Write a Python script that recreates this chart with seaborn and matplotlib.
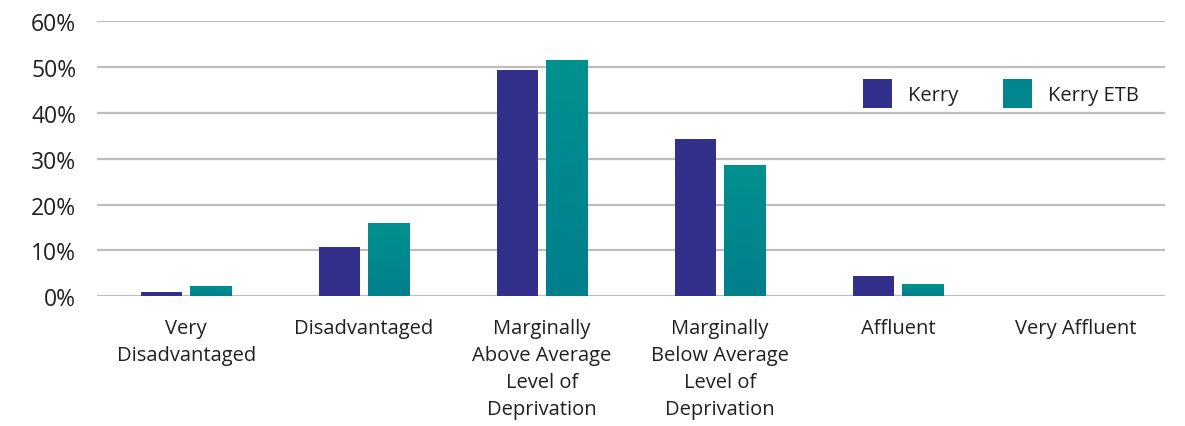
import matplotlib
matplotlib.use('Agg')
import matplotlib.pyplot as plt
import seaborn as sns
import numpy as np
import pandas as pd
from matplotlib.colors import LinearSegmentedColormap
from matplotlib.ticker import PercentFormatter

categories = ['Very\nDisadvantaged', 'Disadvantaged',
              'Marginally\nAbove Average\nLevel of\nDeprivation',
              'Marginally\nBelow Average\nLevel of\nDeprivation',
              'Affluent', 'Very Affluent']
kerry = [0.9, 10.7, 49.3, 34.3, 4.4, 0.0]
kerry_etb = [2.2, 15.9, 51.5, 28.6, 2.6, 0.0]
series = ['Kerry', 'Kerry ETB']
colors = ['#32308b', '#00878e']

df = pd.DataFrame({
    'category': categories * 2,
    'value': kerry + kerry_etb,
    'series': [series[0]] * len(categories) + [series[1]] * len(categories),
})

sns.set_style('white')
plt.rcParams['font.family'] = ['Open Sans', 'DejaVu Sans']

fig = plt.figure(figsize=(11.85, 4.27), dpi=100)
ax = fig.add_axes([0.082, 0.304, 0.901, 0.644])

sns.barplot(data=df, x='category', y='value', hue='series',
            palette=colors, saturation=1, width=0.55, gap=0.16,
            linewidth=0, ax=ax, legend=True)

# teal bars have a slight vertical gradient
teal = LinearSegmentedColormap.from_list('teal', ['#007f8d', '#00918f'])
grad = np.linspace(0, 1, 100).reshape(-1, 1)
for p in ax.containers[1]:
    x0, y0 = p.get_x(), p.get_y()
    w, h = p.get_width(), p.get_height()
    if h <= 0:
        continue
    im = ax.imshow(grad, cmap=teal, origin='lower', aspect='auto',
                   extent=[x0, x0 + w, y0, y0 + h], zorder=p.get_zorder() + 0.1)
    im.set_clip_path(p)

ax.set_xlim(-0.5, 5.5)
ax.set_ylim(0, 60)
ax.set_yticks(range(0, 61, 10))
ax.yaxis.set_major_formatter(PercentFormatter(decimals=0))
ax.grid(axis='y', color='#bdbdbd', linewidth=1.6)
ax.set_axisbelow(True)
for s in ax.spines.values():
    s.set_visible(False)
ax.set_xlabel('')
ax.set_ylabel('')
ax.tick_params(axis='y', labelsize=16.5, labelcolor='#231f20', length=0, pad=15)
ax.tick_params(axis='x', labelsize=14.5, labelcolor='#231f20', length=0, pad=16)
for t in ax.get_xticklabels():
    t.set_linespacing(1.45)

leg = ax.legend(loc='upper left', bbox_to_anchor=(0.70, 0.855), ncol=2,
                frameon=False, fontsize=14.5, handlelength=1.45, handleheight=1.8,
                columnspacing=2.2, handletextpad=0.8, labelcolor='#231f20')

fig.savefig('out.png', dpi=100)
